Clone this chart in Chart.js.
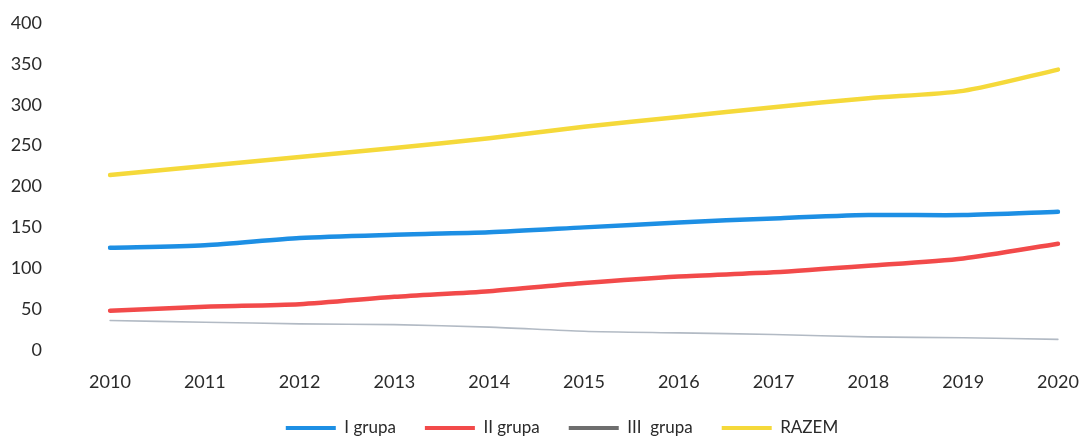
<!DOCTYPE html>
<html>
<head>
<meta charset="utf-8">
<script src="https://cdn.jsdelivr.net/npm/chart.js@4"></script>
<style>
  html, body { margin: 0; padding: 0; background: #fff; }
  #wrap { width: 1080px; height: 444px; }
</style>
</head>
<body>
<div id="wrap"><canvas id="groups"></canvas></div>
<script>
const years = ["2010", "2011", "2012", "2013", "2014", "2015", "2016", "2017", "2018", "2019", "2020"];

const group1 = [125, 128, 137, 141, 144, 150, 156, 161, 165, 165, 169];
const group2 = [48, 53, 56, 65, 72, 82, 90, 95, 103, 112, 130];
const group3 = [36, 34, 32, 31, 28, 23, 21, 19, 16, 15, 13];
const total = [214, 225, 236, 247, 259, 273, 285, 297, 308, 317, 343];

const seriesNames = ["I grupa", "II grupa", "III  grupa", "RAZEM"];
const yTicks = [0, 50, 100, 150, 200, 250, 300, 350, 400];

const textColor = "#2a2a2a";
const tickFont = { family: "Lato, 'Open Sans', sans-serif", size: 18 };
const legendFont = { family: "Lato, 'Open Sans', sans-serif", size: 17 };

function lineSet(label, data, color, width, legendColor) {
    return {
        label: label,
        data: data,
        borderColor: color,
        backgroundColor: color,
        legendColor: legendColor || color,
        borderWidth: width,
        borderCapStyle: "round",
        pointRadius: 0,
        tension: 0.25,
        fill: false
    };
}

// nudge the legend row a little right of the canvas centre
const legendShift = {
    id: "legendShift",
    afterLayout(chart) {
        chart.legend.left += 19;
        chart.legend.right += 19;
    }
};

new Chart(document.getElementById("groups"), {
    type: "line",
    data: {
        labels: years,
        datasets: [
            lineSet(seriesNames[0], group1, "#1d8fe4", 4.5),
            lineSet(seriesNames[1], group2, "#f24a4a", 4.5),
            lineSet(seriesNames[2], group3, "#b2bac4", 1.6, "#6e6e6e"),
            lineSet(seriesNames[3], total, "#f5d93a", 4.5)
        ]
    },
    plugins: [legendShift],
    options: {
        responsive: true,
        maintainAspectRatio: false,
        animation: false,
        layout: { padding: { left: 10, right: 4, top: 23, bottom: -2.5 } },
        plugins: {
            tooltip: { enabled: false },
            legend: {
                position: "bottom",
                labels: {
                    color: textColor,
                    font: legendFont,
                    boxWidth: 50,
                    boxHeight: 4,
                    padding: 29,
                    // solid strip in the series colour for each entry
                    generateLabels(chart) {
                        const items = Chart.defaults.plugins.legend.labels.generateLabels(chart);
                        items.forEach((it, i) => {
                            it.fillStyle = chart.data.datasets[i].legendColor;
                            it.lineWidth = 0;
                        });
                        return items;
                    }
                }
            }
        },
        scales: {
            x: {
                offset: false,
                afterFit(scale) {
                    scale.height = 40.5;
                    scale.paddingLeft = 0;
                    scale.paddingRight = 22;
                },
                grid: { display: false, drawTicks: false },
                border: { display: false },
                ticks: { color: textColor, font: tickFont, padding: 21, maxRotation: 0 }
            },
            y: {
                min: 0,
                max: 400,
                afterBuildTicks(scale) {
                    scale.ticks = yTicks.map(v => ({ value: v }));
                },
                // wide axis box with the labels pushed far left of the plot
                afterFit(scale) {
                    scale.width = 100;
                    scale.paddingTop = 0;
                    scale.paddingBottom = 0;
                },
                grid: { display: false, drawTicks: false },
                border: { display: false },
                ticks: { color: textColor, font: tickFont, padding: 68 }
            }
        }
    }
});
</script>
</body>
</html>
